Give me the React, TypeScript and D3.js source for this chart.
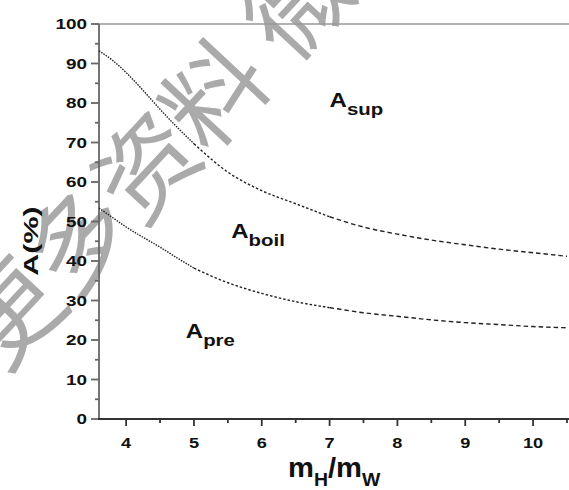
import * as d3 from 'd3'

const ratio = [3.6, 3.8, 4.0, 4.25, 4.5, 4.75, 5.0, 5.5, 6.0, 6.5, 7.0, 7.5, 8.0, 8.5, 9.0, 9.5, 10.0, 10.5]
const supBoundary = [93.2, 90.8, 87.7, 83.2, 78.4, 73.9, 69.7, 62.5, 57.8, 54.5, 51.2, 48.6, 46.8, 45.3, 44.1, 43.0, 42.1, 41.2]
const preBoundary = [53.4, 51.0, 48.6, 46.0, 43.5, 40.8, 38.2, 34.5, 31.8, 29.7, 28.2, 26.9, 26.0, 25.1, 24.4, 23.9, 23.4, 23.1]

const xTicks = [4, 5, 6, 7, 8, 9, 10]
const xMinor = [4.5, 5.5, 6.5, 7.5, 8.5, 9.5, 10.5]
const yTicks = [0, 10, 20, 30, 40, 50, 60, 70, 80, 90, 100]
const yMinor = [5, 15, 25, 35, 45, 55, 65, 75, 85, 95]

const regions = [
  { main: 'A', sub: 'sup', x: 7.0, y: 79 },
  { main: 'A', sub: 'boil', x: 5.55, y: 45.8 },
  { main: 'A', sub: 'pre', x: 4.88, y: 20.6 },
]

// the plotted dots get sparser to the right, so the dash grows per stretch
const dashStretches = [
  { from: 0, to: 6, dash: '1.5 1.2' },
  { from: 6, to: 10, dash: '2.5 2' },
  { from: 10, to: 17, dash: '4.5 3' },
]

const width = 569
const height = 490
const marginLeft = 99
const marginTop = 24
const marginBottom = 71
const font = '"Liberation Sans", Arial, sans-serif'

export default function App() {
  const x = d3.scaleLinear([3.6, 10.53], [marginLeft, width])
  const y = d3.scaleLinear([0, 100], [height - marginBottom, marginTop])
  const line = d3
    .line<[number, number]>((d) => x(d[0]), (d) => y(d[1]))
    .curve(d3.curveMonotoneX)
  const y0 = y(0)

  const pieces = (vals: number[]) =>
    dashStretches.map((s) => ({
      dash: s.dash,
      d: line(d3.range(s.from, s.to + 1).map((i) => [ratio[i], vals[i]] as [number, number])),
    }))

  return (
    <svg
      width={width}
      height={height}
      style={{ position: 'absolute', left: 0, top: 0, background: '#fff' }}
      fontFamily={font}
    >
      {/* watermark */}
      <text
        transform="translate(3,375) rotate(-47)"
        fontFamily='"Noto Sans CJK SC", sans-serif'
        fontSize={100}
        fill="#aaa"
      >
        更多资料 微信
      </text>

      {/* top frame line */}
      <line x1={marginLeft} x2={width} y1={y(100)} y2={y(100)} stroke="#999" strokeWidth={1.3} />

      {/* left axis */}
      <g stroke="#666" strokeWidth={1.8}>
        <line x1={marginLeft} x2={marginLeft} y1={y(100)} y2={y0 + 1} />
        {yTicks.map((t) => (
          <line key={t} x1={marginLeft - 8} x2={marginLeft} y1={y(t)} y2={y(t)} />
        ))}
        {yMinor.map((t) => (
          <line key={t} x1={marginLeft - 4} x2={marginLeft} y1={y(t)} y2={y(t)} />
        ))}
      </g>
      <g fontWeight="bold" fontSize={14} fill="#111">
        {yTicks.map((t) => (
          <text key={t} textAnchor="end" transform={`translate(87,${y(t) + 5}) scale(1.35,1)`}>
            {t}
          </text>
        ))}
      </g>

      {/* bottom axis */}
      <g stroke="#333" strokeWidth={1.8}>
        <line x1={marginLeft - 1} x2={width} y1={y0} y2={y0} />
        {xTicks.map((t) => (
          <line key={t} x1={x(t)} x2={x(t)} y1={y0} y2={y0 + 7} />
        ))}
        {xMinor.map((t) => (
          <line key={t} x1={x(t)} x2={x(t)} y1={y0} y2={y0 + 4} />
        ))}
      </g>
      <g fontWeight="bold" fontSize={14} fill="#111">
        {xTicks.map((t) => (
          <text key={t} textAnchor="middle" transform={`translate(${x(t)},448) scale(1.3,1)`}>
            {t}
          </text>
        ))}
      </g>

      {/* axis titles */}
      <text
        transform="translate(38,241) rotate(-90) scale(1.45,1)"
        textAnchor="middle"
        fontWeight="bold"
        fontSize={21}
        fill="#111"
      >
        A(%)
      </text>
      <text transform="translate(288,477) scale(1.08,1)" fontWeight="bold" fontSize={27} fill="#111">
        m
        <tspan fontSize={18} dy={9}>H</tspan>
        <tspan dy={-9}>/m</tspan>
        <tspan fontSize={18} dy={9}>W</tspan>
      </text>

      {/* boundary curves */}
      <g fill="none" stroke="#222" strokeWidth={1.4}>
        {[supBoundary, preBoundary].map((vals, k) =>
          pieces(vals).map((p, j) => (
            <path key={`${k}-${j}`} d={p.d ?? undefined} strokeDasharray={p.dash} />
          ))
        )}
      </g>

      {/* region labels */}
      <g fontWeight="bold" fill="#111">
        {regions.map((r) => (
          <text key={r.sub} transform={`translate(${x(r.x)},${y(r.y)}) scale(1.2,1)`} fontSize={20}>
            {r.main}
            <tspan fontSize={17} dy={8}>
              {r.sub}
            </tspan>
          </text>
        ))}
      </g>
    </svg>
  )
}
